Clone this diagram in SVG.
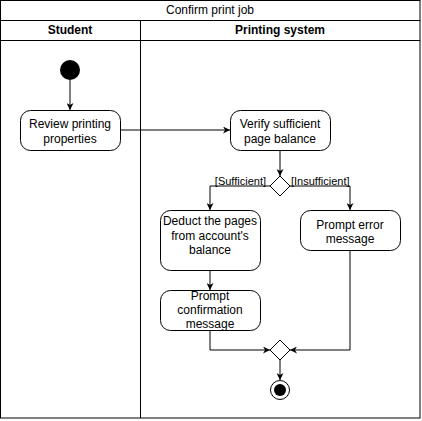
<svg xmlns="http://www.w3.org/2000/svg" width="422" height="421" viewBox="0 0 422 421">
<defs>
<style>
.frame{fill:#fff;stroke:#000;stroke-width:1}
.node{fill:#fff;stroke:#000;stroke-width:1}
.edge{fill:none;stroke:#000;stroke-width:1}
text{font-family:"Liberation Sans",Arial,Helvetica,sans-serif;font-size:12px;fill:#000;text-anchor:middle}
.hdr{font-weight:bold}
.lbl{font-size:11px}
</style>
<marker id="arr" viewBox="0 0 10 10" refX="10" refY="5" markerWidth="7" markerHeight="7" markerUnits="userSpaceOnUse" orient="auto">
<path d="M0,0 L10,5 L0,10 L3,5 Z" fill="#000"/>
</marker>
</defs>
<g id="pool">
<rect class="frame" x="0.5" y="0.5" width="419.5" height="417.5"/>
<line class="edge" x1="0.5" y1="20.5" x2="420" y2="20.5"/>
<line class="edge" x1="0.5" y1="40.5" x2="420" y2="40.5"/>
<line class="edge" x1="140.5" y1="20.5" x2="140.5" y2="418"/>
<text x="210" y="14">Confirm print job</text>
<text class="hdr" x="70" y="34">Student</text>
<text class="hdr" x="280" y="34">Printing system</text>
</g>
<g id="connectors">
<line class="edge" x1="70" y1="80" x2="70" y2="110" marker-end="url(#arr)"/>
<line class="edge" x1="120" y1="130" x2="230" y2="130" marker-end="url(#arr)"/>
<line class="edge" x1="280" y1="150" x2="280" y2="176" marker-end="url(#arr)"/>
<polyline class="edge" points="270,186 210,186 210,210" marker-end="url(#arr)"/>
<polyline class="edge" points="290,186 350,186 350,210" marker-end="url(#arr)"/>
<line class="edge" x1="210" y1="270" x2="210" y2="290" marker-end="url(#arr)"/>
<polyline class="edge" points="210,330 210,350 270,350" marker-end="url(#arr)"/>
<polyline class="edge" points="350,250 350,350 290,350" marker-end="url(#arr)"/>
<line class="edge" x1="280" y1="360" x2="280" y2="380" marker-end="url(#arr)"/>
<text class="lbl" x="266" y="185" style="text-anchor:end">[Sufficient]</text>
<text class="lbl" x="291" y="185" style="text-anchor:start">[Insufficient]</text>
</g>
<g id="start"><circle cx="70" cy="70" r="10" fill="#000"/></g>
<g id="review">
<rect class="node" x="20.5" y="110.5" width="100" height="40" rx="10"/>
<text x="70" y="128">Review printing</text>
<text x="70" y="143">properties</text>
</g>
<g id="verify">
<rect class="node" x="230.5" y="110.5" width="100" height="40" rx="10"/>
<text x="280" y="128">Verify sufficient</text>
<text x="280" y="143">page balance</text>
</g>
<g id="decision">
<path class="node" d="M280,176 L290,186 L280,196 L270,186 Z"/>
</g>
<g id="deduct">
<rect class="node" x="160.5" y="210.5" width="100" height="60" rx="10"/>
<text x="210" y="225">Deduct the pages</text>
<text x="210" y="240">from account's</text>
<text x="210" y="254">balance</text>
</g>
<g id="error">
<rect class="node" x="300.5" y="210.5" width="100" height="40" rx="10"/>
<text x="350" y="229">Prompt error</text>
<text x="350" y="243">message</text>
</g>
<g id="confirm">
<rect class="node" x="160.5" y="290.5" width="100" height="40" rx="10"/>
<text x="210" y="300">Prompt</text>
<text x="210" y="314">confirmation</text>
<text x="210" y="328">message</text>
</g>
<g id="merge">
<path class="node" d="M280,340 L290,350 L280,360 L270,350 Z"/>
</g>
<g id="end">
<circle cx="280" cy="390" r="9.5" fill="#fff" stroke="#000" stroke-width="1"/>
<circle cx="280" cy="390" r="6" fill="#000"/>
</g>
</svg>
